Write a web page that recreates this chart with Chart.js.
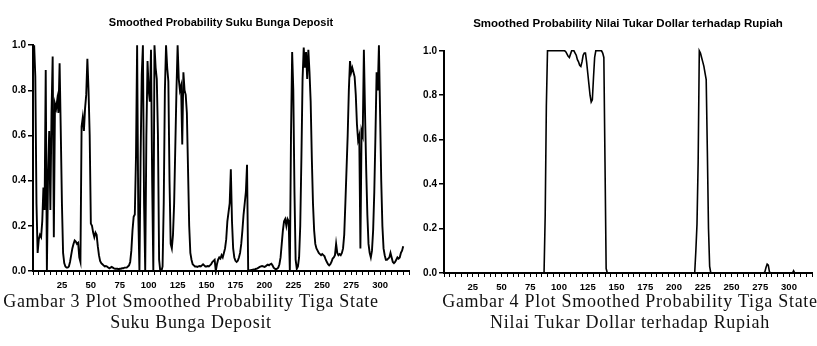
<!DOCTYPE html>
<html>
<head>
  <title>Smoothed Probability</title>
  <script src="https://cdn.jsdelivr.net/npm/chart.js"></script>
  <style>
    body { margin: 0; background: #fff; width: 817px; height: 346px; overflow: hidden; position: relative; }
    .box { position: absolute; top: 0; }
    .cap { position: absolute; width: 520px; text-align: center; white-space: nowrap;
           font-family: "Liberation Serif", "Times New Roman", serif; font-size: 18px; color: #111; letter-spacing: 0.7px; }
  </style>
</head>
<body>
  <div class="box" style="left:0px;"><canvas id="left" width="442" height="300"></canvas></div>
  <div class="box" style="left:410px;"><canvas id="right" width="407" height="302"></canvas></div>
  <div class="cap" style="left:-69px; top:291px;">Gambar 3 Plot Smoothed Probability Tiga State</div>
  <div class="cap" style="left:-69px; top:312px;">Suku Bunga Deposit</div>
  <div class="cap" style="left:370px; top:291px;">Gambar 4 Plot Smoothed Probability Tiga State</div>
  <div class="cap" style="left:370px; top:312px;">Nilai Tukar Dollar terhadap Rupiah</div>

  <script>
    // titles
    const depositTitle = "Smoothed Probability Suku Bunga Deposit";
    const kursTitle = "Smoothed Probability Nilai Tukar Dollar terhadap Rupiah";

    // smoothed probability per period (1..320)
    const depositProb = [
      1.0, 0.86, 0.3, 0.08, 0.14, 0.16, 0.15, 0.22, 0.37, 0.27,
      0.89, 0.0, 0.42, 0.62, 0.27, 0.7, 0.95, 0.15, 0.74, 0.72,
      0.76, 0.7, 0.92, 0.62, 0.3, 0.08, 0.035, 0.02, 0.015, 0.015,
      0.02, 0.04, 0.07, 0.1, 0.12, 0.135, 0.13, 0.12, 0.125, 0.06,
      0.04, 0.64, 0.68, 0.62, 0.72, 0.78, 0.94, 0.8, 0.6, 0.21,
      0.2, 0.17, 0.15, 0.17, 0.16, 0.11, 0.07, 0.045, 0.035, 0.03,
      0.025, 0.02, 0.022, 0.02, 0.015, 0.012, 0.015, 0.018, 0.015, 0.012,
      0.01, 0.01, 0.01, 0.008, 0.01, 0.01, 0.012, 0.012, 0.015, 0.015,
      0.015, 0.02, 0.025, 0.04, 0.09, 0.18, 0.24, 0.25, 0.5, 1.0,
      0.25, 0.0, 0.5, 0.87, 1.0, 0.3, 0.0, 0.6, 0.93, 0.8,
      0.75, 0.98, 0.4, 0.0, 1.0, 0.9, 0.85, 0.6, 0.05, 0.0,
      0.0, 0.02, 0.3, 0.8, 1.0, 0.9, 0.84, 0.4, 0.12, 0.1,
      0.16, 0.3, 0.55, 0.8, 1.0, 0.85, 0.8, 0.82, 0.56, 0.88,
      0.8, 0.78, 0.7, 0.45, 0.2, 0.08, 0.05, 0.03, 0.025, 0.02,
      0.02, 0.018, 0.02, 0.022, 0.02, 0.025, 0.03, 0.025, 0.02, 0.02,
      0.022, 0.02, 0.025, 0.03, 0.04, 0.045, 0.05, 0.0, 0.03, 0.05,
      0.06, 0.055, 0.07, 0.06, 0.08, 0.1, 0.14, 0.22, 0.26, 0.3,
      0.45, 0.22, 0.1, 0.06, 0.045, 0.04, 0.045, 0.06, 0.08, 0.12,
      0.18, 0.25, 0.3, 0.35, 0.47, 0.0, 0.003, 0.004, 0.005, 0.006,
      0.007, 0.008, 0.01, 0.012, 0.015, 0.018, 0.02, 0.022, 0.02, 0.018,
      0.02, 0.025, 0.028, 0.025, 0.03, 0.032, 0.025, 0.015, 0.01, 0.008,
      0.01, 0.015, 0.03, 0.06, 0.12, 0.18, 0.22, 0.23, 0.2, 0.23,
      0.22, 0.0, 0.6, 0.97, 0.8, 0.35, 0.05, 0.01, 0.02, 0.06,
      0.2, 0.5, 0.85, 0.99, 0.9, 0.97, 0.85, 0.98, 0.88, 0.75,
      0.5, 0.3, 0.18, 0.12, 0.1, 0.09, 0.08, 0.075, 0.07, 0.075,
      0.07, 0.065, 0.05, 0.04, 0.03, 0.025, 0.03, 0.04, 0.055, 0.06,
      0.07, 0.12, 0.08, 0.07, 0.075, 0.07, 0.08, 0.1, 0.16, 0.3,
      0.45, 0.6, 0.8, 0.93, 0.88, 0.9, 0.88, 0.86, 0.78, 0.65,
      0.58, 0.6, 0.1, 0.62, 0.6, 0.98, 0.7, 0.45, 0.25, 0.12,
      0.08, 0.06, 0.09, 0.18, 0.35, 0.6, 0.88, 0.8, 1.0, 0.7,
      0.4, 0.2, 0.1, 0.07, 0.05, 0.05, 0.055, 0.06, 0.08, 0.06,
      0.04, 0.035, 0.04, 0.05, 0.06, 0.055, 0.06, 0.08, 0.09, 0.11
    ];

    // smoothed probability per period (1..318)
    const kursProb = [
      0, 0, 0, 0, 0, 0, 0, 0, 0, 0,
      0, 0, 0, 0, 0, 0, 0, 0, 0, 0,
      0, 0, 0, 0, 0, 0, 0, 0, 0, 0,
      0, 0, 0, 0, 0, 0, 0, 0, 0, 0,
      0, 0, 0, 0, 0, 0, 0, 0, 0, 0,
      0, 0, 0, 0, 0, 0, 0, 0, 0, 0,
      0, 0, 0, 0, 0, 0, 0, 0, 0, 0,
      0, 0, 0, 0, 0, 0, 0, 0, 0, 0,
      0, 0, 0, 0, 0, 0, 0, 0.26, 0.75, 1.0,
      1.0, 1.0, 1.0, 1.0, 1.0, 1.0, 1.0, 1.0, 1.0, 1.0,
      1.0, 1.0, 1.0, 1.0, 1.0, 0.995, 0.985, 0.975, 0.97, 0.985,
      1.0, 1.0, 1.0, 0.99, 0.98, 0.96, 0.95, 0.935, 0.93, 0.95,
      0.98, 0.99, 0.99, 0.95, 0.9, 0.85, 0.8, 0.77, 0.78, 0.88,
      0.97, 1.0, 1.0, 1.0, 1.0, 1.0, 1.0, 0.99, 0.97, 0.5,
      0.02, 0, 0, 0, 0, 0, 0, 0, 0, 0,
      0, 0, 0, 0, 0, 0, 0, 0, 0, 0,
      0, 0, 0, 0, 0, 0, 0, 0, 0, 0,
      0, 0, 0, 0, 0, 0, 0, 0, 0, 0,
      0, 0, 0, 0, 0, 0, 0, 0, 0, 0,
      0, 0, 0, 0, 0, 0, 0, 0, 0, 0,
      0, 0, 0, 0, 0, 0, 0, 0, 0, 0,
      0, 0, 0, 0, 0, 0, 0, 0, 0.1, 0.22,
      0.5, 1.0, 0.99, 0.97, 0.95, 0.93, 0.9, 0.87, 0.55, 0.2,
      0.03, 0, 0, 0, 0, 0, 0, 0, 0, 0,
      0, 0, 0, 0, 0, 0, 0, 0, 0, 0,
      0, 0, 0, 0, 0, 0, 0, 0, 0, 0,
      0, 0, 0, 0, 0, 0, 0, 0, 0, 0,
      0, 0, 0, 0, 0, 0, 0, 0, 0.005, 0.025,
      0.04, 0.035, 0.005, 0, 0, 0, 0, 0, 0, 0,
      0, 0, 0, 0, 0, 0, 0, 0, 0, 0,
      0, 0, 0, 0.01, 0, 0, 0, 0, 0, 0,
      0, 0, 0, 0, 0, 0, 0, 0
    ];

    const yTicks = [0, 0.2, 0.4, 0.6, 0.8, 1.0];
    const xLabelTicks = [25, 50, 75, 100, 125, 150, 175, 200, 225, 250, 275, 300];

    const tickFont = { family: "Liberation Sans, Arial", size: 9.5, weight: "bold" };

    function makeChart(id, title, values, opts) {
      const points = values.map((v, i) => ({ x: i + 1, y: v }));
      return new Chart(document.getElementById(id), {
        type: "line",
        data: {
          datasets: [{
            data: points,
            borderColor: "#000",
            borderWidth: opts.lineWidth,
            pointRadius: 0,
            tension: 0,
            clip: 4
          }]
        },
        options: {
          responsive: false,
          animation: false,
          layout: { padding: { left: 0, right: opts.padRight, top: 0, bottom: 0 } },
          plugins: {
            legend: { display: false },
            tooltip: { enabled: false },
            title: {
              display: true,
              text: title,
              fullSize: false,
              color: "#000",
              font: { family: "Liberation Sans, Arial", size: opts.titleSize, weight: "bold" },
              padding: { top: opts.titleTop, bottom: opts.titleBottom }
            }
          },
          scales: {
            x: {
              type: "linear",
              min: 0,
              max: opts.xMax,
              afterFit: s => { s.height = 29; },
              border: { color: "#000", width: 2 },
              grid: { drawOnChartArea: false, drawTicks: true, tickLength: 4, color: "#000", lineWidth: 1 },
              ticks: {
                stepSize: 5,
                autoSkip: false,
                maxRotation: 0,
                padding: 5,
                color: "#000",
                font: tickFont,
                callback: v => xLabelTicks.includes(v) ? String(v) : ""
              }
            },
            y: {
              min: 0,
              max: 1,
              afterFit: s => { s.width = opts.yWidth; },
              afterBuildTicks: s => { s.ticks = yTicks.map(v => ({ value: v })); },
              border: { color: "#000", width: 2 },
              grid: { drawOnChartArea: false, drawTicks: true, tickLength: 5, color: "#000", lineWidth: 1.5 },
              ticks: {
                padding: 2,
                color: "#000",
                font: { family: "Liberation Sans, Arial", size: 10, weight: "bold" },
                callback: v => v.toFixed(1)
              }
            }
          }
        }
      });
    }

    makeChart("left", depositTitle, depositProb,
      { lineWidth: 1.9, padRight: 33, xMax: 325, yWidth: 33, titleTop: 16, titleBottom: 16, titleSize: 11 });
    makeChart("right", kursTitle, kursProb,
      { lineWidth: 1.6, padRight: 3, xMax: 320, yWidth: 34, titleTop: 17, titleBottom: 20, titleSize: 11.5 });
  </script>
</body>
</html>
